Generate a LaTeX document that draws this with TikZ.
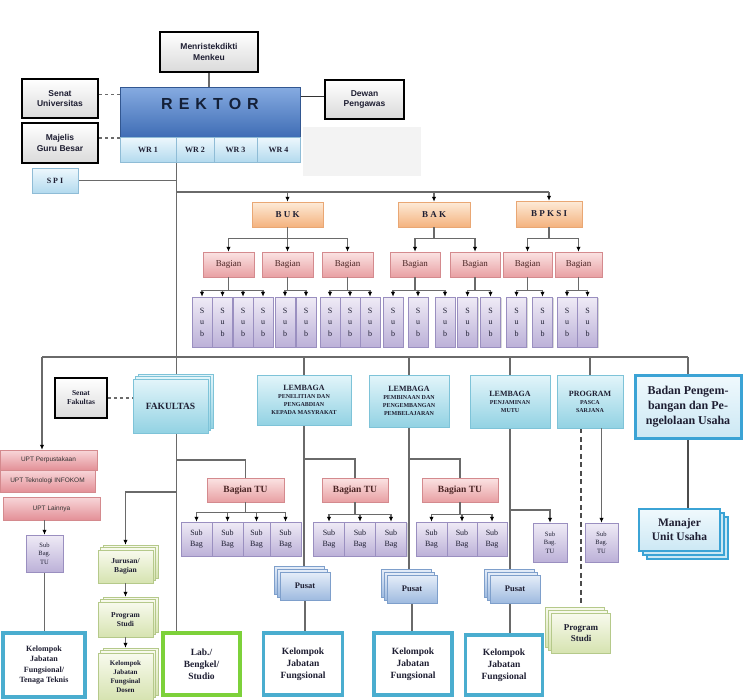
\documentclass[tikz,border=0pt]{standalone}
\usepackage{fontspec}
\setmainfont{Liberation Serif}
\setsansfont{Liberation Sans}
\usetikzlibrary{arrows.meta,shadows,calc}
\pgfdeclarelayer{bg}
\pgfsetlayers{bg,main}
\definecolor{lncol}{HTML}{6A6A6A}
\definecolor{txt}{HTML}{1E1E32}
\definecolor{rekA}{HTML}{86ABE1}
\definecolor{rekB}{HTML}{3F6DB5}
\definecolor{wrA}{HTML}{EEF8FD}
\definecolor{wrB}{HTML}{B3DAEE}
\definecolor{wrD}{HTML}{8FBCD6}
\definecolor{orA}{HTML}{FDEBD8}
\definecolor{orB}{HTML}{F4B27E}
\definecolor{orD}{HTML}{E9A774}
\definecolor{pkA}{HTML}{FBE3E3}
\definecolor{pkB}{HTML}{E8A0A3}
\definecolor{pkD}{HTML}{D48A8E}
\definecolor{upA}{HTML}{F8D6D9}
\definecolor{upB}{HTML}{E39097}
\definecolor{lvA}{HTML}{EFEBF6}
\definecolor{lvB}{HTML}{BCB1D8}
\definecolor{lvD}{HTML}{9A8FC0}
\definecolor{cyA}{HTML}{E3F5FA}
\definecolor{cyB}{HTML}{92D2E3}
\definecolor{cyD}{HTML}{7EC3D8}
\definecolor{grA}{HTML}{F8FAEE}
\definecolor{grB}{HTML}{D6E3B0}
\definecolor{grD}{HTML}{B5C98A}
\definecolor{puA}{HTML}{E6EEF9}
\definecolor{puB}{HTML}{9EBADF}
\definecolor{puD}{HTML}{7E9FCB}
\definecolor{kelD}{HTML}{4AADCF}
\definecolor{labD}{HTML}{7DD13A}
\definecolor{bdA}{HTML}{F0F9FD}
\definecolor{bdB}{HTML}{CCE8F4}
\definecolor{bdD}{HTML}{3BA3D5}
\definecolor{grayA}{HTML}{DADADA}
\definecolor{ghost}{HTML}{F3F3F3}
\definecolor{rektxt}{HTML}{142038}
\definecolor{bgtxt}{HTML}{4A2424}
\begin{document}
\begin{tikzpicture}[x=1pt,y=-1pt,
  wh/.style 2 args={minimum width=#1pt,minimum height=#2pt},
  base/.style={rectangle,inner sep=1pt,align=center,text=txt},
  shd/.style={drop shadow={shadow xshift=1.2pt,shadow yshift=-1.4pt,opacity=0.3}},
  blk/.style={base,draw=black,line width=2.4pt,top color=white,bottom color=grayA,font=\sffamily\bfseries\fontsize{8.5}{10.5}\selectfont},
  rekbox/.style={base,shd,draw=rekB!80!black,line width=0.6pt,top color=rekA,bottom color=rekB},
  wrbox/.style={base,draw=wrD,line width=0.5pt,top color=wrA,bottom color=wrB,font=\bfseries\fontsize{8}{9}\selectfont},
  orbox/.style={base,shd,draw=orD,line width=0.5pt,top color=orA,bottom color=orB,font=\bfseries\fontsize{9}{10}\selectfont},
  pkbox/.style={base,shd,draw=pkD,line width=0.5pt,top color=pkA,bottom color=pkB,text=bgtxt,font=\fontsize{9}{10}\selectfont},
  uptbox/.style={base,shd,draw=pkD,line width=0.5pt,top color=upA,bottom color=upB,text=black!80,font=\sffamily\fontsize{6.5}{8}\selectfont},
  lvbox/.style={base,shd,draw=lvD,line width=0.5pt,top color=lvA,bottom color=lvB,font=\fontsize{8}{11.5}\selectfont},
  cybox/.style={base,shd,draw=cyD,line width=0.5pt,top color=cyA,bottom color=cyB,font=\bfseries\fontsize{6}{8}\selectfont},
  kelbox/.style={base,draw=kelD,line width=3.5pt,fill=white,font=\bfseries\fontsize{9.5}{12}\selectfont},
  labbox/.style={base,draw=labD,line width=3.5pt,fill=white,font=\bfseries\fontsize{9.5}{12}\selectfont},
  stUR/.style={copy shadow={shadow xshift=5pt,shadow yshift=5pt,#1},copy shadow={shadow xshift=2.5pt,shadow yshift=2.5pt,#1}},
  stUL/.style={copy shadow={shadow xshift=-6pt,shadow yshift=6pt,#1},copy shadow={shadow xshift=-3pt,shadow yshift=3pt,#1}},
  stDR/.style={copy shadow={shadow xshift=8pt,shadow yshift=-8pt,#1},copy shadow={shadow xshift=4pt,shadow yshift=-4pt,#1}},
  fakbox/.style={base,draw=cyD,line width=0.5pt,top color=cyA,bottom color=cyB,stUR={draw=cyD,line width=0.5pt,top color=cyA,bottom color=cyB}},
  grUR/.style={base,draw=grD,line width=0.5pt,top color=grA,bottom color=grB,stUR={draw=grD,line width=0.5pt,top color=grA,bottom color=grB},font=\bfseries\fontsize{7.5}{9.5}\selectfont},
  grUL/.style={base,draw=grD,line width=0.5pt,top color=grA,bottom color=grB,stUL={draw=grD,line width=0.5pt,top color=grA,bottom color=grB},font=\bfseries\fontsize{9}{11}\selectfont},
  pubox/.style={base,draw=puD,line width=0.5pt,top color=puA,bottom color=puB,stUL={draw=puD,line width=0.5pt,top color=puA,bottom color=puB},font=\bfseries\fontsize{8.5}{10}\selectfont},
  manbox/.style={base,draw=bdD,line width=2.2pt,top color=bdA,bottom color=bdB,stDR={draw=bdD,line width=2.2pt,fill=bdB},font=\bfseries\fontsize{11.5}{14}\selectfont},
  ln/.style={draw=lncol,line width=1.1pt},
  arr/.style={ln,-{Latex[length=5pt,width=4.5pt,color=black]}},
  dashln/.style={draw=black!70,line width=2.2pt,dash pattern=on 5pt off 3.5pt},
]
\useasboundingbox (0,0) rectangle (743,699);

% ---------- top ----------
\node[blk,wh={98}{40}] (men) at (209,52) {Menristekdikti\\Menkeu};
\node[rekbox,wh={180}{50}] (rek) at (210,112) {};
\node[font=\sffamily\bfseries\fontsize{16}{18}\selectfont,text=rektxt] (rekT) at (210,104) {R\hspace{6pt}E\hspace{6pt}K\hspace{6pt}T\hspace{6pt}O\hspace{6pt}R};
\node[wrbox,wh={56}{25}] (wr1) at (148,149.5) {WR 1};
\node[wrbox,wh={38}{25}] (wr2) at (195,149.5) {WR 2};
\node[wrbox,wh={43}{25}] (wr3) at (235.5,149.5) {WR 3};
\node[wrbox,wh={43}{25}] (wr4) at (278.5,149.5) {WR 4};
\node[blk,wh={76}{39}] (senU) at (60,98.5) {Senat\\Universitas};
\node[blk,wh={76}{40}] (mgb) at (60,143) {Majelis\\Guru Besar};
\node[blk,wh={79}{39}] (dewan) at (364.5,99.5) {Dewan\\Pengawas};
\node[wrbox,shd,wh={46}{25}] (spi) at (55,180.5) {S P I};

% ---------- BUK / BAK / BPKSI ----------
\node[orbox,wh={71}{25}] (buk) at (287.5,214.5) {B U K};
\node[orbox,wh={72}{25}] (bak) at (434,214.5) {B A K};
\node[orbox,wh={66}{26}] (bpk) at (549,214) {B P K S I};

\node[pkbox,wh={51}{25}] (g1) at (228.5,264.5) {Bagian};
\node[pkbox,wh={51}{25}] (g2) at (287.5,264.5) {Bagian};
\node[pkbox,wh={51}{25}] (g3) at (347.5,264.5) {Bagian};
\node[pkbox,wh={50}{25}] (g4) at (415,264.5) {Bagian};
\node[pkbox,wh={50}{25}] (g5) at (475,264.5) {Bagian};
\node[pkbox,wh={49}{25}] (g6) at (527.5,264.5) {Bagian};
\node[pkbox,wh={47}{25}] (g7) at (578.5,264.5) {Bagian};

\foreach \n/\x in {s1/202,s2/222.5,s3/243,s4/263,s5/285,s6/306,s7/330,s8/350,s9/370,
  s10/393,s11/418,s12/445,s13/467.5,s14/490.5,s15/516.5,s16/542.5,s17/567,s18/587.5}
  \node[lvbox,wh={20}{50}] (\n) at (\x,322) {S\\u\\b};

% ---------- left column ----------
\node[uptbox,wh={97}{20}] (upt1) at (48.5,460) {UPT Perpustakaan};
\node[uptbox,wh={95}{22}] (upt2) at (47.5,481) {UPT Teknologi INFOKOM};
\node[uptbox,wh={97}{23}] (upt3) at (51.5,508.5) {UPT Lainnya};
\node[lvbox,wh={37}{37},font=\fontsize{6.5}{8.5}\selectfont] (tu1) at (44.5,553.5) {Sub\\Bag.\\TU};
\node[kelbox,wh={82}{64},font=\bfseries\fontsize{8}{10.5}\selectfont] (kel1) at (44,665) {Kelompok\\Jabatan\\Fungsional/\\Tenaga Teknis};

% ---------- Fakultas ----------
\node[blk,line width=1.8pt,wh={52}{40},font=\bfseries\fontsize{7.5}{9}\selectfont] (senF) at (81,398) {Senat\\Fakultas};
\node[fakbox,wh={75}{54},font=\bfseries\fontsize{9.5}{11}\selectfont] (fak) at (170.5,406) {FAKULTAS};
\node[pkbox,wh={77}{24},font=\bfseries\fontsize{9.5}{11}\selectfont] (bgf) at (245.5,490) {Bagian TU};
\node[lvbox,wh={31}{34},font=\fontsize{8}{11}\selectfont] (f1) at (196.5,539) {Sub\\Bag};
\node[lvbox,wh={31}{34},font=\fontsize{8}{11}\selectfont] (f2) at (227.5,539) {Sub\\Bag};
\node[lvbox,wh={27}{34},font=\fontsize{8}{11}\selectfont] (f3) at (256.5,539) {Sub\\Bag};
\node[lvbox,wh={31}{34},font=\fontsize{8}{11}\selectfont] (f4) at (285.5,539) {Sub\\Bag};
\node[grUR,wh={55}{33}] (jur) at (125.5,566.5) {Jurusan/\\Bagian};
\node[grUR,wh={55}{35}] (ps1) at (125.5,619.5) {Program\\Studi};
\node[grUR,wh={55}{47},font=\bfseries\fontsize{7}{9}\selectfont] (kd) at (125.5,676.5) {Kelompok\\Jabatan\\Fungsinal\\Dosen};
\node[labbox,wh={77}{62}] (lab) at (201.5,664) {Lab./\\Bengkel/\\Studio};

% ---------- LPPM ----------
\node[cybox,wh={94}{50}] (lppm) at (304,400) {{\fontsize{8}{10}\selectfont LEMBAGA}\\PENELITIAN DAN\\PENGABDIAN\\KEPADA MASYRAKAT};
\node[pkbox,wh={66}{24},font=\bfseries\fontsize{9.5}{11}\selectfont] (bgl1) at (355,490) {Bagian TU};
\node[lvbox,wh={31}{34},font=\fontsize{8}{11}\selectfont] (l1) at (329,539) {Sub\\Bag};
\node[lvbox,wh={31}{34},font=\fontsize{8}{11}\selectfont] (l2) at (360,539) {Sub\\Bag};
\node[lvbox,wh={31}{34},font=\fontsize{8}{11}\selectfont] (l3) at (391,539) {Sub\\Bag};
\node[pubox,wh={50}{28}] (pus1) at (305,586) {Pusat};
\node[kelbox,wh={79}{62}] (kel2) at (303,664) {Kelompok\\Jabatan\\Fungsional};

% ---------- LP3 ----------
\node[cybox,wh={80}{52}] (lp3) at (409,401) {{\fontsize{8}{10}\selectfont LEMBAGA}\\PEMBINAAN DAN\\PENGEMBANGAN\\PEMBELAJARAN};
\node[pkbox,wh={76}{24},font=\bfseries\fontsize{9.5}{11}\selectfont] (bgl2) at (460,490) {Bagian TU};
\node[lvbox,wh={31}{34},font=\fontsize{8}{11}\selectfont] (m1) at (431.5,539) {Sub\\Bag};
\node[lvbox,wh={30}{34},font=\fontsize{8}{11}\selectfont] (m2) at (462,539) {Sub\\Bag};
\node[lvbox,wh={30}{34},font=\fontsize{8}{11}\selectfont] (m3) at (492,539) {Sub\\Bag};
\node[pubox,wh={50}{28}] (pus2) at (412,589) {Pusat};
\node[kelbox,wh={78}{62}] (kel3) at (413,664) {Kelompok\\Jabatan\\Fungsional};

% ---------- LPM ----------
\node[cybox,wh={80}{53}] (lpm) at (510,401.5) {{\fontsize{8}{10}\selectfont LEMBAGA}\\PENJAMINAN\\MUTU};
\node[lvbox,wh={34}{39},font=\fontsize{6.5}{8.5}\selectfont] (tu2) at (550,542.5) {Sub\\Bag.\\TU};
\node[pubox,wh={50}{28}] (pus3) at (515,589) {Pusat};
\node[kelbox,wh={77}{60}] (kel4) at (504,665) {Kelompok\\Jabatan\\Fungsional};

% ---------- Pasca ----------
\node[cybox,wh={66}{53}] (pasca) at (590,401.5) {{\fontsize{8}{10}\selectfont PROGRAM}\\PASCA\\SARJANA};
\node[lvbox,wh={33}{39},font=\fontsize{6.5}{8.5}\selectfont] (tu3) at (601.5,542.5) {Sub\\Bag.\\TU};
\node[grUL,wh={59}{40}] (ps2) at (581,633) {Program\\Studi};

% ---------- Badan ----------
\node[base,draw=bdD,line width=3pt,top color=bdA,bottom color=bdB,wh={106}{63},font=\bfseries\fontsize{12}{15}\selectfont] (badan) at (688,406.5) {Badan Pengem-\\bangan dan Pe-\\ngelolaan Usaha};
\node[manbox,wh={81}{42}] (man) at (679.5,530) {Manajer\\Unit Usaha};

% ---------- connectors ----------
\coordinate (tk) at (176.5,162);
\coordinate (bL) at (42,357);
\coordinate (bR) at (688,357);
\begin{pgfonlayer}{bg}
\fill[ghost] (303,127) rectangle (421,176);
\draw[ln] (men.south) -- (men.south |- rek.north);
\draw[ln,dashed] ([yshift=4pt]senU.east) -- ([yshift=4pt]senU.east -| rek.west);
\draw[ln,dashed] ([yshift=5pt]mgb.east) -- ([yshift=5pt]mgb.east -| wr1.west);
\draw[ln,line width=1.6pt,draw=black!80] ([yshift=3pt]dewan.west) -- ([yshift=3pt]dewan.west -| rek.east);
\draw[ln] (tk) -- (tk |- fak.north);
\draw[ln] (spi.east) -- (spi.east -| tk);
\draw[ln] (tk |- 0,192) -- (bpk.north |- 0,192);
\draw[ln] (bL) -- (bR);
\foreach \n in {lppm,lp3,lpm,pasca,badan} \draw[ln] (\n.north |- bL) -- (\n.north);
\draw[ln,dashed] (senF.east) -- (senF.east -| fak.west);
\draw[ln] (tk |- fak.south) -- (tk |- lab.north);
\draw[ln] (tk |- 0,460) -| (bgf.north);
\draw[ln] (tu1.south) -- (tu1.south |- kel1.north);
\draw[ln] (lppm.south) -- (lppm.south |- pus1.north);
\draw[ln] (lppm.south |- 0,459) -| (bgl1.north);
\draw[ln] (pus1.south) -- (pus1.south |- kel2.north);
\draw[ln] (lp3.south) -- (lp3.south |- pus2.north);
\draw[ln] (lp3.south |- 0,459) -| (bgl2.north);
\draw[ln] (pus2.south) -- (pus2.south |- kel3.north);
\draw[ln] (lpm.south) -- (lpm.south |- pus3.north);
\draw[ln] (pus3.south -| lpm.south) -- (lpm.south |- kel4.north);
\draw[dashln] (ps2.north |- pasca.south) -- (ps2.north);
\draw[ln,line width=1.8pt,draw=black!70] (badan.south) -- (badan.south |- man.north);
\end{pgfonlayer}

\foreach \n in {buk,bak,bpk} \draw[arr] (\n.north |- 0,192) -- (\n.north);
\foreach \g in {g1,g2,g3} \draw[arr] (buk.south) -- ++(0,11) -| (\g.north);
\foreach \g in {g4,g5} \draw[arr] (bak.south) -- ++(0,11) -| (\g.north);
\foreach \g in {g6,g7} \draw[arr] (bpk.south) -- ++(0,11) -| (\g.north);
\foreach \s in {s1,s2,s3,s4} \draw[arr] (g1.south) -- ++(0,13) -| (\s.north);
\foreach \s in {s5,s6} \draw[arr] (g2.south) -- ++(0,13) -| (\s.north);
\foreach \s in {s7,s8,s9} \draw[arr] (g3.south) -- ++(0,13) -| (\s.north);
\foreach \s in {s10,s11,s12} \draw[arr] (g4.south) -- ++(0,13) -| (\s.north);
\foreach \s in {s13,s14} \draw[arr] (g5.south) -- ++(0,13) -| (\s.north);
\foreach \s in {s15,s16} \draw[arr] (g6.south) -- ++(0,13) -| (\s.north);
\foreach \s in {s17,s18} \draw[arr] (g7.south) -- ++(0,13) -| (\s.north);
\draw[arr] (bL) -- (bL |- upt1.north);
\draw[arr] (tu1.north |- upt3.south) -- (tu1.north);
\foreach \s in {f1,f2,f3,f4} \draw[arr] (bgf.south) -- ++(0,10) -| (\s.north);
\draw[arr] (tk |- 0,492) -| ([yshift=5pt]jur.north);
\draw[arr] (jur.south) -- ([yshift=5pt]ps1.north);
\draw[arr] (ps1.south) -- ([yshift=5pt]kd.north);
\foreach \s in {l1,l2,l3} \draw[arr] (bgl1.south) -- ++(0,12) -| (\s.north);
\foreach \s in {m1,m2,m3} \draw[arr] (bgl2.south) -- ++(0,12) -| (\s.north);
\draw[arr] (lpm.south |- 0,510) -| (tu2.north);
\draw[arr] (tu3.north |- pasca.south) -- (tu3.north);
\end{tikzpicture}
\end{document}
